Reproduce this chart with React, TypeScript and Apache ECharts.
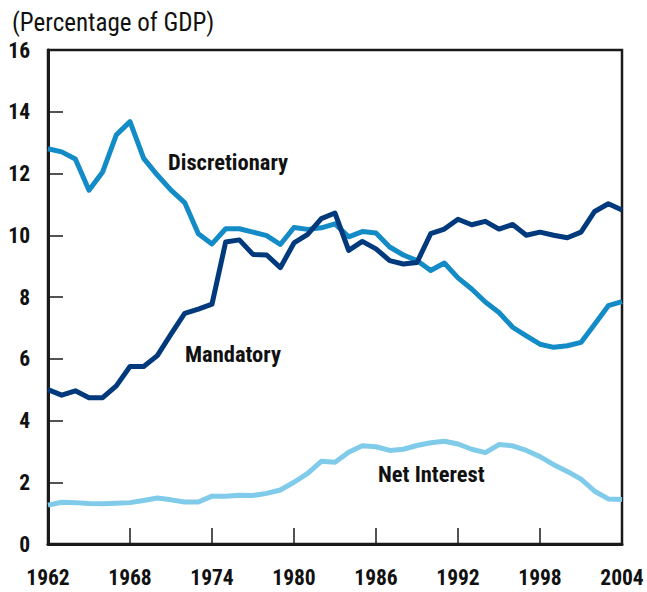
import React, { useEffect, useRef } from "react";
import * as echarts from "echarts";

const years: number[] = [];
for (let y = 1962; y <= 2004; y++) years.push(y);

const discretionary = [
  12.8, 12.7, 12.47, 11.46, 12.05, 13.25, 13.68, 12.49, 11.95, 11.46, 11.06, 10.05, 9.72, 10.21,
  10.21, 10.1, 9.99, 9.7, 10.25, 10.19, 10.24, 10.37, 9.95, 10.12, 10.07, 9.62, 9.36, 9.18, 8.86,
  9.1, 8.62, 8.26, 7.84, 7.5, 7.02, 6.74, 6.47, 6.37, 6.42, 6.53, 7.12, 7.72, 7.85,
];

const mandatory = [
  5.0, 4.82, 4.96, 4.74, 4.74, 5.12, 5.75, 5.75, 6.1, 6.8, 7.47, 7.61, 7.77, 9.78, 9.85, 9.38,
  9.36, 8.95, 9.75, 10.03, 10.54, 10.72, 9.51, 9.8, 9.56, 9.18, 9.07, 9.12, 10.05, 10.2, 10.52,
  10.34, 10.45, 10.2, 10.35, 10.0, 10.1, 10.0, 9.92, 10.1, 10.77, 11.02, 10.82,
];

const netInterest = [
  1.26, 1.35, 1.34, 1.31, 1.3, 1.32, 1.34, 1.41, 1.49, 1.43, 1.36, 1.36, 1.55, 1.55, 1.58, 1.57,
  1.64, 1.75, 2.0, 2.29, 2.68, 2.65, 2.97, 3.18, 3.15, 3.03, 3.07, 3.19, 3.28, 3.33, 3.24, 3.07,
  2.96, 3.22, 3.18, 3.03, 2.83, 2.57, 2.35, 2.1, 1.71, 1.46, 1.44,
];

const seriesNames = ["Discretionary", "Mandatory", "Net Interest"];
const titleText = "(Percentage of GDP)";

const FONT = "'Roboto Condensed', 'Liberation Sans Narrow', 'Arial Narrow', Roboto, sans-serif";

export default function App() {
  const ref = useRef<HTMLDivElement>(null);
  useEffect(() => {
    document.body.style.margin = "0";
    if (!ref.current) return;
    const chart = echarts.init(ref.current, undefined, { renderer: "svg" });
    const toPairs = (arr: number[]) => arr.map((v, i) => [years[i], v]);
    const labelStyle = {
      fontFamily: FONT,
      fontSize: 22.5,
      fontWeight: "bold" as const,
      fill: "#111",
    };
    chart.setOption({
      animation: false,
      backgroundColor: "#fff",
      title: {
        text: titleText,
        left: 7,
        top: 5,
        textStyle: { fontFamily: FONT, fontSize: 25, fontWeight: "normal", color: "#111" },
      },
      grid: {
        left: 48,
        right: 25,
        top: 50,
        bottom: 48,
        show: true,
        borderColor: "#1a1a1a",
        borderWidth: 2.5,
        backgroundColor: "transparent",
      },
      xAxis: {
        type: "value",
        min: 1962,
        max: 2004,
        interval: 6,
        splitLine: { show: false },
        axisLine: { show: true, lineStyle: { color: "#1a1a1a", width: 3 } },
        axisTick: { show: true, inside: true, length: 16, lineStyle: { color: "#1a1a1a", width: 1.5 } },
        axisLabel: {
          margin: 22,
          fontFamily: FONT,
          fontSize: 21.5,
          fontWeight: "bold",
          color: "#111",
          formatter: (v: number) => String(v),
        },
      },
      yAxis: {
        type: "value",
        min: 0,
        max: 16,
        interval: 2,
        splitLine: { show: false },
        axisLine: { show: true, lineStyle: { color: "#1a1a1a", width: 3 } },
        axisTick: { show: true, inside: true, length: 15, lineStyle: { color: "#1a1a1a", width: 1.5 } },
        axisLabel: {
          margin: 18,
          fontFamily: FONT,
          fontSize: 21.5,
          fontWeight: "bold",
          color: "#111",
        },
      },
      series: [
        {
          name: seriesNames[0],
          type: "line",
          data: toPairs(discretionary),
          symbol: "none",
          lineStyle: { color: "#138bc6", width: 5, join: "round" },
          z: 3,
        },
        {
          name: seriesNames[1],
          type: "line",
          data: toPairs(mandatory),
          symbol: "none",
          lineStyle: { color: "#003a7c", width: 5, join: "round" },
          z: 4,
        },
        {
          name: seriesNames[2],
          type: "line",
          data: toPairs(netInterest),
          symbol: "none",
          lineStyle: { color: "#80cbea", width: 5, join: "round" },
          z: 3,
        },
      ],
      graphic: [
        { type: "text", left: 168, top: 150, style: { ...labelStyle, text: seriesNames[0] } },
        { type: "text", left: 185, top: 342, style: { ...labelStyle, text: seriesNames[1] } },
        { type: "text", left: 378, top: 462, style: { ...labelStyle, text: seriesNames[2] } },
      ],
    });
    return () => chart.dispose();
  }, []);
  return <div ref={ref} style={{ width: 647, height: 592 }} />;
}
